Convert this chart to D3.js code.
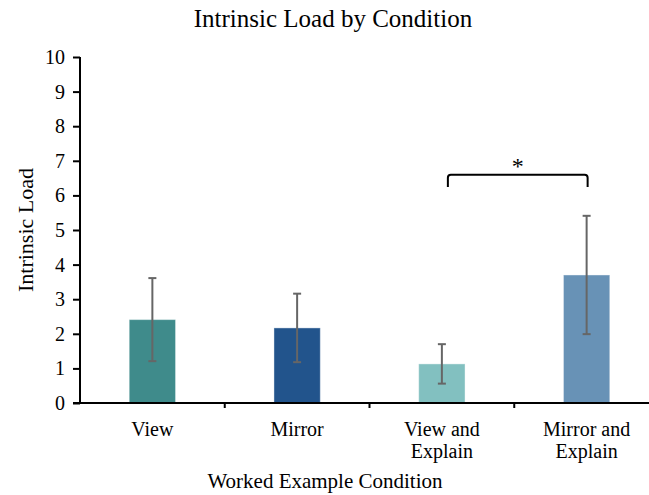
<!DOCTYPE html>
<html>
<head>
<meta charset="utf-8">
<script src="https://cdn.jsdelivr.net/npm/d3@7"></script>
<style>
  body { margin: 0; background: #fff; }
  svg text { font-family: "Liberation Serif", "Times New Roman", serif; fill: #000; }
</style>
</head>
<body>
<script>
//Data
    const conditions = ["View", "Mirror", "View and\nExplain", "Mirror and\nExplain"];
    const means = [2.41, 2.17, 1.13, 3.70];
    const errors = [1.20, 0.99, 0.57, 1.71];
    const barColors = ["#3f8b8b", "#22548c", "#82c0c0", "#6892b6"];
    const yTicks = [0, 1, 2, 3, 4, 5, 6, 7, 8, 9, 10];
    const sigPair = ["View and\nExplain", "Mirror and\nExplain"];

//Set up dimensions
    const width = 649;
    const height = 495;
    const margin = {top: 57, right: -10, bottom: 92, left: 80};
    const serif = "Liberation Serif, Times New Roman, serif";

//Make the SVG
    const svg = d3.select("body")
                .append("svg")
                .attr("width", width)
                .attr("height", height);

//Set up scales
    const xScale = d3.scaleBand()
                    .domain(conditions)
                    .range([margin.left, width - margin.right])
                    .paddingInner(0)
                    .paddingOuter(0);

    const yScale = d3.scaleLinear()
                    .domain([0, 10])
                    .range([height - margin.bottom, margin.top]);

    const barW = xScale.bandwidth() * 0.32;

//Title
    svg.append("text")
        .attr("x", 333)
        .attr("y", 27)
        .attr("text-anchor", "middle")
        .style("font-family", serif)
        .style("font-size", "25px")
        .text("Intrinsic Load by Condition");

//Draw bars
    svg.selectAll("rect.bar")
        .data(conditions)
        .enter()
        .append("rect")
        .attr("class", "bar")
        .attr("x", d => xScale(d) + xScale.bandwidth() / 2 - barW / 2)
        .attr("y", (d, i) => yScale(means[i]))
        .attr("width", barW)
        .attr("height", (d, i) => yScale(0) - yScale(means[i]))
        .attr("fill", (d, i) => barColors[i])
        .attr("stroke", "#ffffff")
        .attr("stroke-opacity", 0.4)
        .attr("stroke-width", 1);

//Error bars
    const errG = svg.append("g")
        .attr("stroke", "#666")
        .attr("stroke-width", 2);

    conditions.forEach((c, i) => {
        const cx = xScale(c) + xScale.bandwidth() / 2;
        const lo = yScale(means[i] - errors[i]);
        const hi = yScale(means[i] + errors[i]);
        errG.append("line").attr("x1", cx).attr("x2", cx).attr("y1", lo).attr("y2", hi);
        errG.append("line").attr("x1", cx - 4).attr("x2", cx + 4).attr("y1", lo).attr("y2", lo);
        errG.append("line").attr("x1", cx - 4).attr("x2", cx + 4).attr("y1", hi).attr("y2", hi);
    });

//Set up axes
    const leftAxis = d3.axisLeft()
                       .scale(yScale)
                       .tickValues(yTicks)
                       .tickSize(7)
                       .tickPadding(8);

    const gy = svg.append("g")
        .attr("transform", "translate(" + margin.left + ",0)")
        .call(leftAxis)
        .attr("font-family", serif);
    gy.select(".domain").attr("stroke-width", 2).attr("d", "M0," + yScale(10) + "V" + yScale(0));
    gy.selectAll(".tick line").attr("stroke-width", 2);
    gy.selectAll(".tick text")
        .style("font-size", "20px")
        .style("font-family", serif);

    const bottomAxis = d3.axisBottom()
                         .scale(xScale)
                         .tickSize(0)
                         .tickFormat("");

    const gx = svg.append("g")
        .attr("transform", "translate(0," + yScale(0) + ")")
        .call(bottomAxis);
    gx.select(".domain").attr("stroke-width", 2).attr("d", "M" + (margin.left - 7) + ",0H" + width);

    // boundary ticks between categories
    gx.selectAll("line.sep")
        .data(conditions.slice(1))
        .enter()
        .append("line")
        .attr("class", "sep")
        .attr("x1", d => xScale(d))
        .attr("x2", d => xScale(d))
        .attr("y1", 0)
        .attr("y2", 5)
        .attr("stroke", "#000")
        .attr("stroke-width", 2);

    // multi-line category labels
    conditions.forEach(c => {
        const lines = c.split("\n");
        const t = svg.append("text")
            .attr("text-anchor", "middle")
            .attr("x", xScale(c) + xScale.bandwidth() / 2)
            .attr("y", yScale(0) + 33)
            .style("font-family", serif)
            .style("font-size", "20px");
        lines.forEach((l, k) => {
            t.append("tspan")
                .attr("x", xScale(c) + xScale.bandwidth() / 2)
                .attr("dy", k === 0 ? 0 : 22)
                .text(l);
        });
    });

//Axis titles
    svg.append("text")
        .attr("x", 325)
        .attr("y", 488)
        .attr("text-anchor", "middle")
        .style("font-family", serif)
        .style("font-size", "21px")
        .text("Worked Example Condition");

    svg.append("text")
        .attr("transform", "translate(33," + yScale(5) + ") rotate(-90)")
        .attr("text-anchor", "middle")
        .style("font-family", serif)
        .style("font-size", "22px")
        .text("Intrinsic Load");

//Significance bracket
    const bx1 = xScale(sigPair[0]) + xScale.bandwidth() / 2 + 6;
    const bx2 = xScale(sigPair[1]) + xScale.bandwidth() / 2 + 1;
    const byTop = yScale(6.6);
    const byLeg = yScale(6.24);
    svg.append("path")
        .attr("d", "M" + bx1 + "," + byLeg + "V" + (byTop + 3) + "Q" + bx1 + "," + byTop + " " + (bx1 + 3) + "," + byTop +
                   "H" + (bx2 - 3) + "Q" + bx2 + "," + byTop + " " + bx2 + "," + (byTop + 3) + "V" + byLeg)
        .attr("fill", "none")
        .attr("stroke", "#000")
        .attr("stroke-width", 2);

    svg.append("text")
        .attr("x", (bx1 + bx2) / 2)
        .attr("y", byTop - 1)
        .attr("text-anchor", "middle")
        .style("font-family", serif)
        .style("font-size", "24px")
        .text("*");
</script>
</body>
</html>
